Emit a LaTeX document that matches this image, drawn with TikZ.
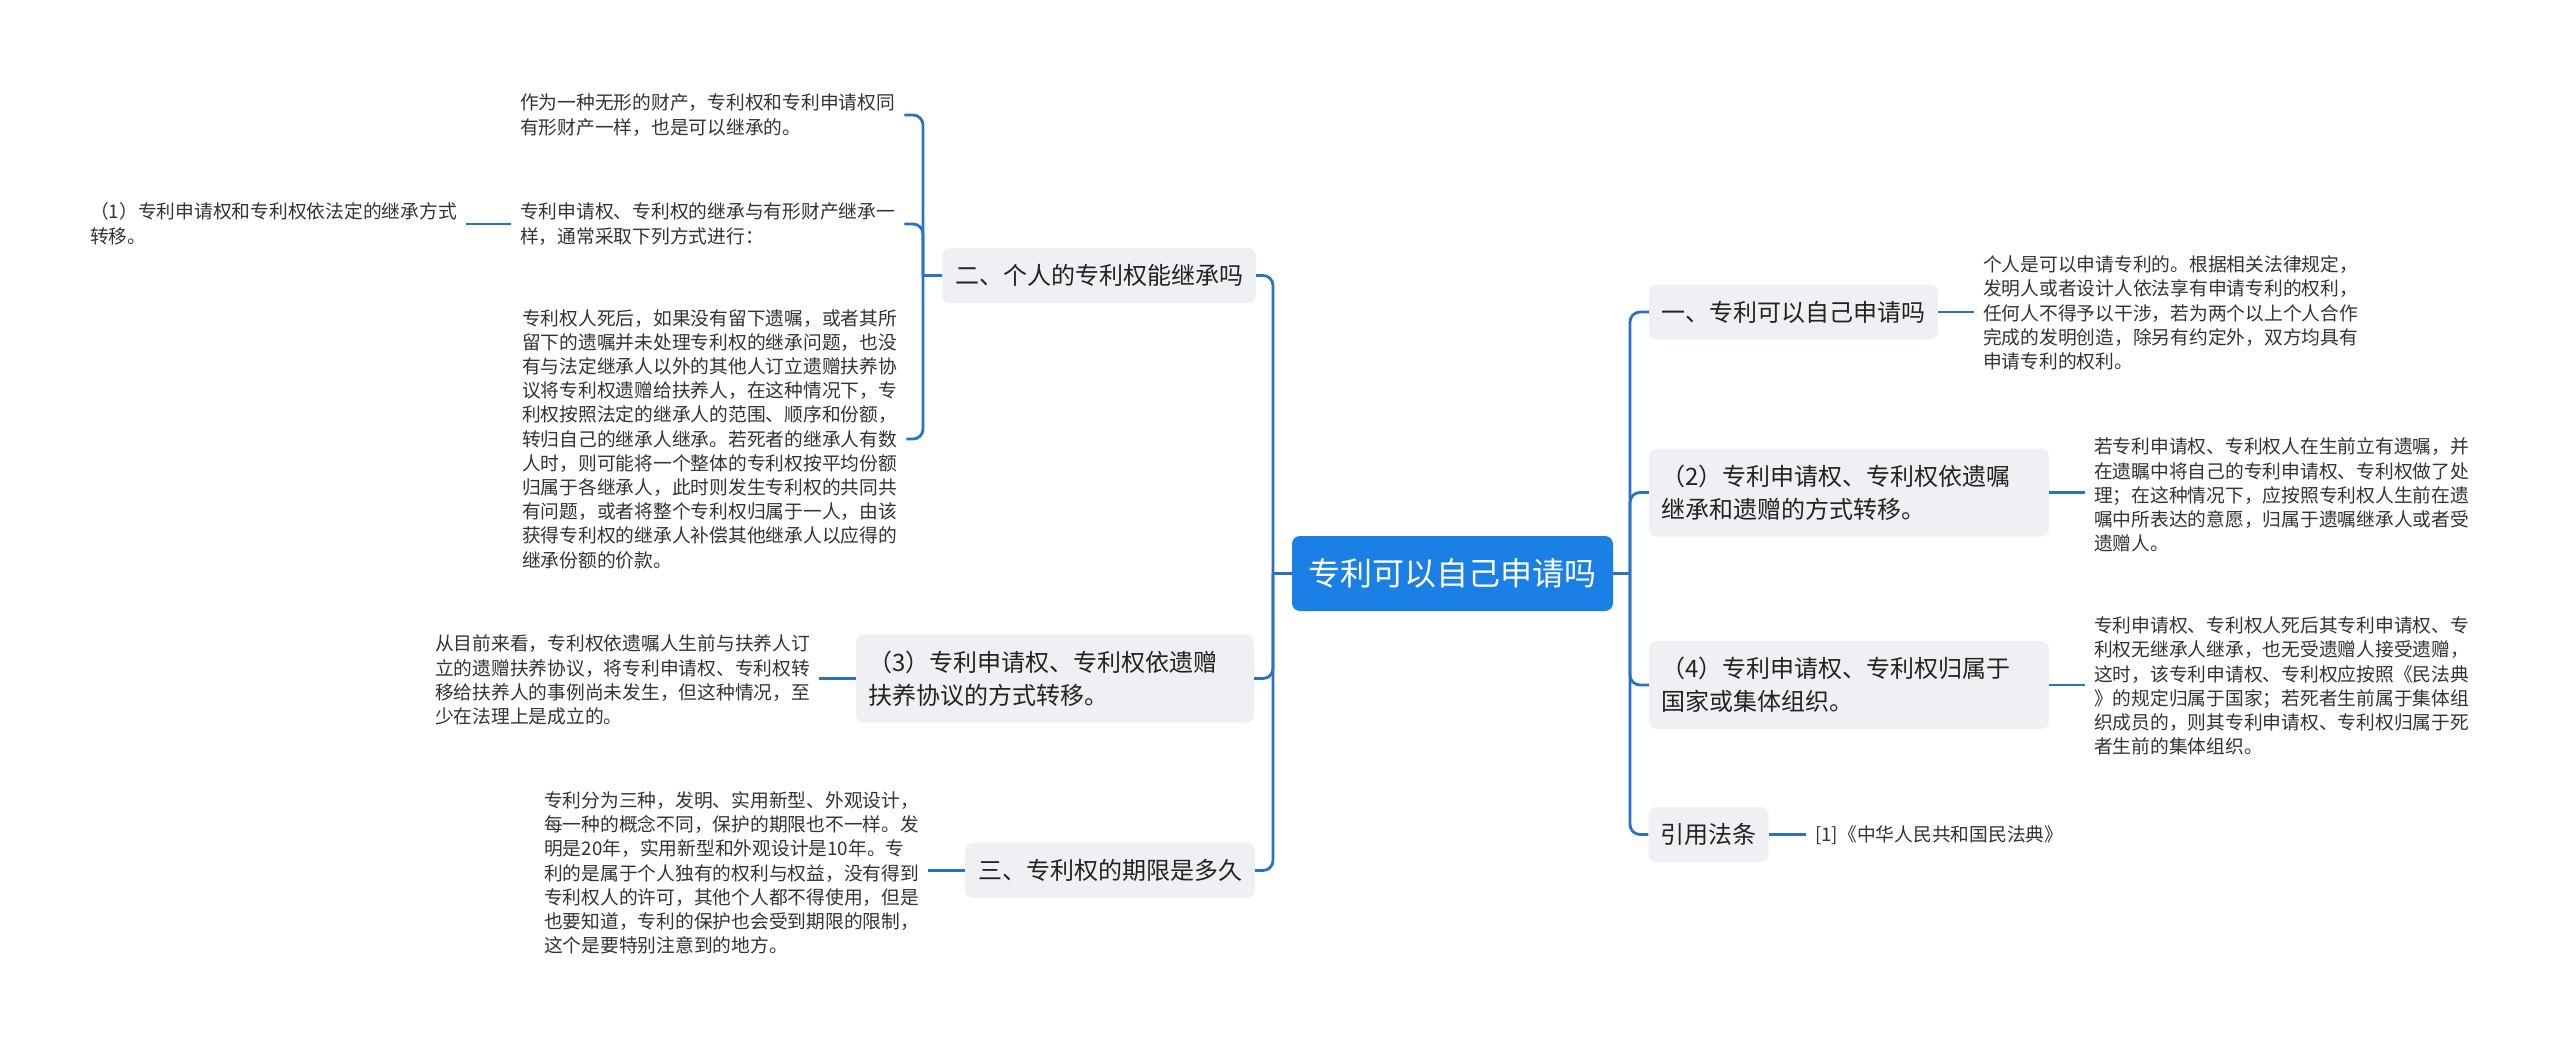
\documentclass[tikz,border=0pt]{standalone}
\usepackage{fontspec}
\newfontfamily\cjk{Noto Sans CJK SC}
\definecolor{connc}{HTML}{2A72C6}
\definecolor{boxc}{HTML}{EEF0F3}
\definecolor{rootc}{HTML}{1B80E6}
\definecolor{txtc}{HTML}{222222}
\definecolor{dtxt}{HTML}{333333}
\tikzset{
  conn/.style={draw=connc, line width=2.8pt, rounded corners=10pt},
  gbox/.style={fill=boxc, rounded corners=8pt, text=txtc, font=\cjk\fontsize{24}{33}\selectfont, inner xsep=12pt, inner ysep=0pt, minimum height=55pt},
  gboxtwo/.style={gbox, align=left, minimum height=88pt},
  det/.style={font=\cjk\fontsize{18.75}{24.2}\selectfont, text=dtxt, align=left, inner xsep=9pt, inner ysep=2pt, anchor=west},
  rootbox/.style={fill=rootc, rounded corners=8pt, text=white, font=\cjk\fontsize{32}{38}\selectfont, minimum width=321pt, minimum height=75pt, inner sep=0pt},
}
\begin{document}
\begin{tikzpicture}[x=1pt,y=-1pt]
\useasboundingbox[fill=white] (0,0) rectangle (2560,1046);

% root
\node[rootbox] (root) at (1452.5,573.5) {专利可以自己申请吗};

% left branches
\node[gbox, minimum width=314pt] (two) at (1099,275.5) {二、个人的专利权能继承吗};
\node[gboxtwo, text width=374pt] (three3) at (1055,678.5) {（3）专利申请权、专利权依遗赠\\扶养协议的方式转移。};
\node[gbox, minimum width=290pt] (san) at (1110,870.5) {三、专利权的期限是多久};

% right branches
\node[gbox, minimum width=289pt] (one) at (1793.5,312) {一、专利可以自己申请吗};
\node[gboxtwo, text width=376pt] (two2) at (1849,492.5) {（2）专利申请权、专利权依遗嘱\\继承和遗赠的方式转移。};
\node[gboxtwo, text width=376pt] (four4) at (1849,685) {（4）专利申请权、专利权归属于\\国家或集体组织。};
\node[gbox, minimum width=119pt] (cite) at (1708.5,834.5) {引用法条};

% detail texts left
\node[det] (a1) at (511,115) {作为一种无形的财产，专利权和专利申请权同\\有形财产一样，也是可以继承的。};
\node[det] (a2) at (511,224) {专利申请权、专利权的继承与有形财产继承一\\样，通常采取下列方式进行：};
\node[det, font=\cjk\fontsize{18.75}{25}\selectfont] (a0) at (81,224) {（1）专利申请权和专利权依法定的继承方式\\转移。};
\node[det] (a3) at (513,439) {专利权人死后，如果没有留下遗嘱，或者其所\\留下的遗嘱并未处理专利权的继承问题，也没\\有与法定继承人以外的其他人订立遗赠扶养协\\议将专利权遗赠给扶养人，在这种情况下，专\\利权按照法定的继承人的范围、顺序和份额，\\转归自己的继承人继承。若死者的继承人有数\\人时，则可能将一个整体的专利权按平均份额\\归属于各继承人，此时则发生专利权的共同共\\有问题，或者将整个专利权归属于一人，由该\\获得专利权的继承人补偿其他继承人以应得的\\继承份额的价款。};
\node[det] (b1) at (426,680) {从目前来看，专利权依遗嘱人生前与扶养人订\\立的遗赠扶养协议，将专利申请权、专利权转\\移给扶养人的事例尚未发生，但这种情况，至\\少在法理上是成立的。};
\node[det] (c1) at (535,873) {专利分为三种，发明、实用新型、外观设计，\\每一种的概念不同，保护的期限也不一样。发\\明是20年，实用新型和外观设计是10年。专\\利的是属于个人独有的权利与权益，没有得到\\专利权人的许可，其他个人都不得使用，但是\\也要知道，专利的保护也会受到期限的限制，\\这个是要特别注意到的地方。};

% detail texts right
\node[det] (d1) at (1974,313) {个人是可以申请专利的。根据相关法律规定，\\发明人或者设计人依法享有申请专利的权利，\\任何人不得予以干涉，若为两个以上个人合作\\完成的发明创造，除另有约定外，双方均具有\\申请专利的权利。};
\node[det] (d2) at (2085,495) {若专利申请权、专利权人在生前立有遗嘱，并\\在遗瞩中将自己的专利申请权、专利权做了处\\理；在这种情况下，应按照专利权人生前在遗\\嘱中所表达的意愿，归属于遗嘱继承人或者受\\遗赠人。};
\node[det] (d3) at (2085,686) {专利申请权、专利权人死后其专利申请权、专\\利权无继承人继承，也无受遗赠人接受遗赠，\\这时，该专利申请权、专利权应按照《民法典\\》的规定归属于国家；若死者生前属于集体组\\织成员的，则其专利申请权、专利权归属于死\\者生前的集体组织。};
\node[det] (d4) at (1806,835) {[1]《中华人民共和国民法典》};

% junctions
\coordinate (lj) at (1273,573.5);
\coordinate (rj) at (1630,573.5);
\coordinate (lb) at (923,275.5);

% root connectors
\draw[conn] (root.west) -- (lj);
\draw[conn] (root.east) -- (rj);
\draw[conn] (lj) |- (two.east);
\draw[conn] (lj) |- (three3.east);
\draw[conn] (lj) |- (san.east);
\draw[conn] (rj) |- (one.west);
\draw[conn] (rj) |- (two2.west);
\draw[conn] (rj) |- (four4.west);
\draw[conn] (rj) |- (cite.west);

% second level
\draw[conn] (two.west) -- (lb);
\draw[conn] (lb) |- (a1.east);
\draw[conn] (lb) |- (a2.east);
\draw[conn] (lb) |- (a3.east);
\draw[conn] (a2.west) -- (a2.west -| a0.east);
\draw[conn] (three3.west) -- (three3.west -| b1.east);
\draw[conn] (san.west) -- (san.west -| c1.east);
\draw[conn] (one.east) -- (one.east -| d1.west);
\draw[conn] (two2.east) -- (two2.east -| d2.west);
\draw[conn] (four4.east) -- (four4.east -| d3.west);
\draw[conn] (cite.east) -- (cite.east -| d4.west);
\end{tikzpicture}
\end{document}
